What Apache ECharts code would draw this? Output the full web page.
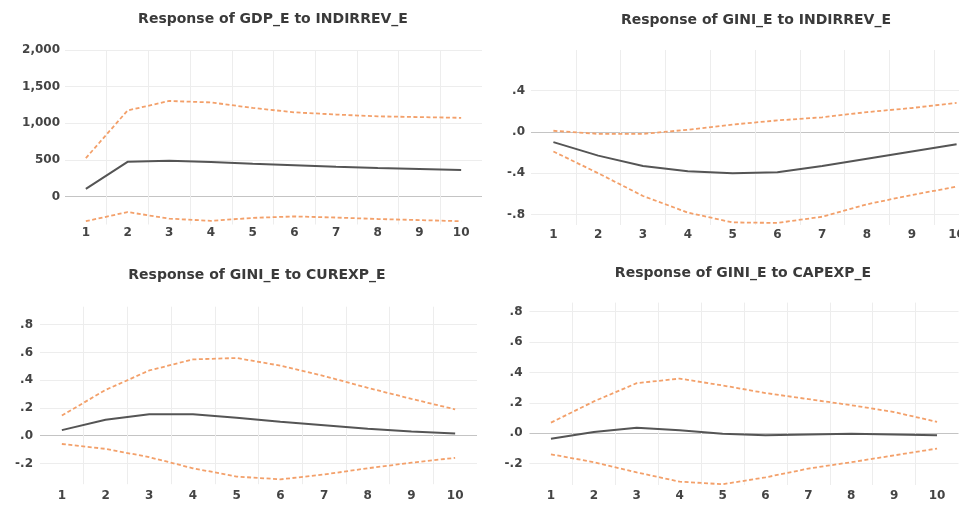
<!DOCTYPE html>
<html>
<head>
<meta charset="utf-8">
<title>Impulse responses</title>
<script src="https://cdn.jsdelivr.net/npm/echarts@6/dist/echarts.min.js"></script>
<style>
html, body { margin: 0; padding: 0; background: #fff; }
#chart { width: 959px; height: 506px; }
</style>
</head>
<body>
<div id="chart"></div>
<script>
// Periods after the shock
const periods = ['1', '2', '3', '4', '5', '6', '7', '8', '9', '10'];

// Response of GDP_E to INDIRREV_E
const gdpIndirrev = [105, 475, 490, 472, 448, 428, 408, 392, 378, 362];
const gdpIndirrevUpper = [525, 1175, 1305, 1285, 1210, 1150, 1120, 1095, 1085, 1075];
const gdpIndirrevLower = [-335, -210, -300, -330, -290, -270, -285, -305, -320, -335];

// Response of GINI_E to INDIRREV_E
const giniIndirrev = [-0.10, -0.23, -0.33, -0.38, -0.40, -0.39, -0.33, -0.26, -0.19, -0.12];
const giniIndirrevUpper = [0.01, -0.02, -0.02, 0.02, 0.07, 0.11, 0.14, 0.19, 0.23, 0.28];
const giniIndirrevLower = [-0.19, -0.40, -0.62, -0.78, -0.875, -0.88, -0.82, -0.70, -0.61, -0.53];

// Response of GINI_E to CUREXP_E
const giniCurexp = [0.04, 0.115, 0.155, 0.155, 0.13, 0.10, 0.075, 0.05, 0.03, 0.015];
const giniCurexpUpper = [0.145, 0.33, 0.47, 0.55, 0.56, 0.505, 0.43, 0.345, 0.265, 0.19];
const giniCurexpLower = [-0.06, -0.095, -0.155, -0.235, -0.295, -0.315, -0.28, -0.235, -0.195, -0.16];

// Response of GINI_E to CAPEXP_E
const giniCapexp = [-0.035, 0.008, 0.037, 0.02, -0.003, -0.012, -0.008, -0.003, -0.007, -0.012];
const giniCapexpUpper = [0.07, 0.21, 0.33, 0.36, 0.315, 0.265, 0.225, 0.185, 0.14, 0.075];
const giniCapexpLower = [-0.138, -0.19, -0.257, -0.318, -0.335, -0.29, -0.232, -0.19, -0.145, -0.10];

// y tick labels
const gdpTicks = [0, 500, 1000, 1500, 2000];
const giniIndirrevTicks = [-0.8, -0.4, 0, 0.4];
const giniExpTicks = [-0.2, 0, 0.2, 0.4, 0.6, 0.8];

const panels = [
  { title: 'Response of GDP_E to INDIRREV_E', mid: gdpIndirrev, upper: gdpIndirrevUpper, lower: gdpIndirrevLower, ticks: gdpTicks, min: -380, max: 2000 },
  { title: 'Response of GINI_E to INDIRREV_E', mid: giniIndirrev, upper: giniIndirrevUpper, lower: giniIndirrevLower, ticks: giniIndirrevTicks, min: -0.9, max: 0.79 },
  { title: 'Response of GINI_E to CUREXP_E', mid: giniCurexp, upper: giniCurexpUpper, lower: giniCurexpLower, ticks: giniExpTicks, min: -0.35, max: 0.93 },
  { title: 'Response of GINI_E to CAPEXP_E', mid: giniCapexp, upper: giniCapexpUpper, lower: giniCapexpLower, ticks: giniExpTicks, min: -0.34, max: 0.86 }
];

// where each panel sits on the page (panel 2 runs past the right edge, as in the source)
const boxes = [
  { left: 65, top: 50, width: 417, height: 174.5, titleX: 273, titleY: 19, xMargin: 2, yMargin: 5 },
  { left: 531, top: 50, width: 448, height: 175, titleX: 756, titleY: 20, xMargin: 4, yMargin: 6 },
  { left: 40, top: 306.7, width: 437, height: 177.5, titleX: 257, titleY: 275, xMargin: 6, yMargin: 7 },
  { left: 529.5, top: 302.6, width: 429, height: 182.4, titleX: 743, titleY: 273, xMargin: 5, yMargin: 7 }
];

const FONT = 'DejaVu Sans';
const TEXT = '#444';
const GRID_LINE = '#ededed';
const ZERO_LINE = '#c4c4c4';
const BAND = '#f3a06a';
const RESPONSE = '#555';

function fmtGdp(v) {
  return v.toLocaleString('en-US');
}

function fmtShare(v) {
  if (Math.abs(v) < 1e-9) return '.0';
  const s = Math.abs(v).toFixed(1).replace(/^0/, '');
  return v < 0 ? '-' + s : s;
}

const chart = echarts.init(document.getElementById('chart'));

const grid = [];
const xAxis = [];
const yAxis = [];
const series = [];
const graphic = [];

panels.forEach((p, i) => {
  const b = boxes[i];
  grid.push({ left: b.left, top: b.top, width: b.width, height: b.height, outerBoundsMode: 'none', containLabel: false });

  // vertical lines sit between periods, none on the outer edges
  const vColors = [];
  for (let k = 0; k <= periods.length; k++) {
    vColors.push(k === 0 || k === periods.length ? 'rgba(0,0,0,0)' : GRID_LINE);
  }
  xAxis.push({
    type: 'category',
    gridIndex: i,
    data: periods,
    boundaryGap: true,
    axisLine: { show: false },
    axisTick: { show: false },
    axisLabel: { interval: 0, margin: b.xMargin, color: TEXT, fontFamily: FONT, fontWeight: 'bold', fontSize: 12 },
    splitLine: { show: true, interval: 0, lineStyle: { color: vColors, width: 1 } }
  });

  yAxis.push({
    type: 'value',
    gridIndex: i,
    min: p.min,
    max: p.max,
    axisLine: { show: false },
    axisTick: { show: false, customValues: p.ticks },
    axisLabel: {
      customValues: p.ticks,
      margin: b.yMargin,
      color: TEXT,
      fontFamily: FONT,
      fontWeight: 'bold',
      fontSize: 12,
      formatter: i === 0 ? fmtGdp : fmtShare
    },
    splitLine: {
      show: true,
      lineStyle: { color: p.ticks.map(v => (Math.abs(v) < 1e-9 ? ZERO_LINE : GRID_LINE)), width: 1 }
    }
  });

  const common = { type: 'line', xAxisIndex: i, yAxisIndex: i, symbol: 'none', silent: true };
  series.push(Object.assign({}, common, {
    data: p.upper,
    lineStyle: { color: BAND, width: 1.8, type: [4, 2.5] }
  }));
  series.push(Object.assign({}, common, {
    data: p.lower,
    lineStyle: { color: BAND, width: 1.8, type: [4, 2.5] }
  }));
  series.push(Object.assign({}, common, {
    data: p.mid,
    lineStyle: { color: RESPONSE, width: 2 }
  }));

  graphic.push({
    type: 'text',
    x: b.titleX,
    y: b.titleY,
    style: {
      text: p.title,
      fill: '#3a3a3a',
      font: 'bold 14px "DejaVu Sans"',
      textAlign: 'center',
      textVerticalAlign: 'middle'
    }
  });
});

chart.setOption({
  animation: false,
  backgroundColor: '#fff',
  grid: grid,
  xAxis: xAxis,
  yAxis: yAxis,
  series: series,
  graphic: graphic
});
</script>
</body>
</html>
